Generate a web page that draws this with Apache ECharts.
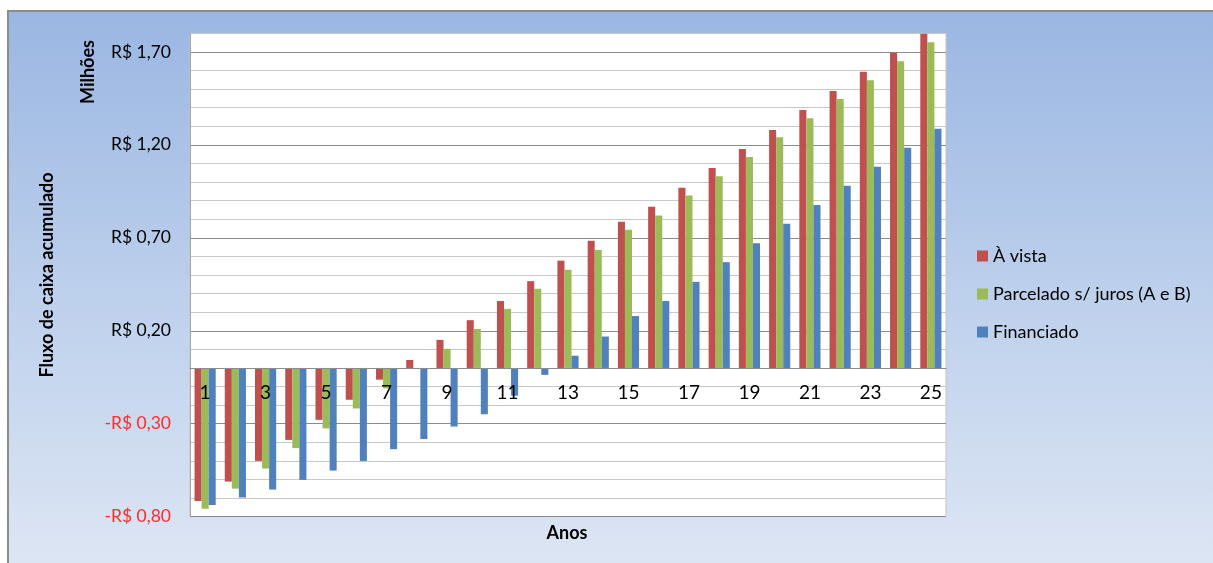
<!DOCTYPE html>
<html>
<head>
<meta charset="utf-8">
<script src="https://cdn.jsdelivr.net/npm/echarts@6/dist/echarts.min.js"></script>
<style>html,body{margin:0;padding:0;background:#fff}#c{width:1213px;height:563px}</style>
</head>
<body>
<div id="c"></div>
<script>
var categories = ['1','2','3','4','5','6','7','8','9','10','11','12','13','14','15','16','17','18','19','20','21','22','23','24','25'];
var aVista = [-0.715,-0.611,-0.500,-0.387,-0.279,-0.171,-0.063,0.043,0.151,0.257,0.360,0.467,0.577,0.684,0.786,0.867,0.969,1.076,1.178,1.280,1.388,1.490,1.593,1.695,1.798];
var parcelado = [-0.757,-0.649,-0.541,-0.431,-0.325,-0.218,-0.110,-0.002,0.103,0.210,0.318,0.426,0.528,0.635,0.743,0.820,0.928,1.031,1.135,1.241,1.343,1.446,1.548,1.650,1.752];
var financiado = [-0.737,-0.697,-0.654,-0.602,-0.552,-0.500,-0.437,-0.382,-0.315,-0.249,-0.149,-0.037,0.066,0.169,0.279,0.360,0.463,0.569,0.671,0.775,0.876,0.980,1.082,1.184,1.286];
var yTickValues = [-0.8,-0.3,0.2,0.7,1.2,1.7];
var yTickLabels = ['-R$ 0,80','-R$ 0,30','R$ 0,20','R$ 0,70','R$ 1,20','R$ 1,70'];
var seriesNames = ['À vista','Parcelado s/ juros (A e B)','Financiado'];

var FONT = 'Lato';
var Y_MIN = -0.8, Y_MAX = 1.8;
var GRID_TOP = 33.3, GRID_BOTTOM = 46.3, H = 563;
var plotH = H - GRID_TOP - GRID_BOTTOM;
var zeroOffset = plotH * (0 - Y_MIN) / (Y_MAX - Y_MIN);

function tickIndex(v){
  for (var i=0;i<yTickValues.length;i++){ if (Math.abs(yTickValues[i]-v)<1e-6) return i; }
  return -1;
}
var chart = echarts.init(document.getElementById('c'));
chart.setOption({
  backgroundColor: '#ffffff',
  animation: false,
  textStyle: {fontFamily: FONT},
  graphic: [
    {type:'rect', z:-10, silent:true, shape:{x:8, y:11, width:1220, height:570},
     style:{fill:new echarts.graphic.LinearGradient(0,0,0,1,[{offset:0,color:'#9ab6e2'},{offset:0.5,color:'#bdd0ec'},{offset:1,color:'#dfe7f4'}]), stroke:'#8c8c8c', lineWidth:2}},
    {type:'text', rotation:Math.PI/2, x:88, y:72, style:{text:'Milhões', fontFamily:FONT, fontWeight:'bold', fontSize:18, fill:'#000', textAlign:'center', textVerticalAlign:'middle'}},
    {type:'text', x:567, y:533, style:{text:'Anos', fontFamily:FONT, fontWeight:'bold', fontSize:18, fill:'#000', textAlign:'center', textVerticalAlign:'middle'}}
  ],
  color: ['#c0504d','#9bbb59','#4f81bd'],
  legend: {
    orient:'vertical', left:977, top:247, padding:0,
    itemWidth:11, itemHeight:11, itemGap:20, icon:'rect',
    data: seriesNames,
    textStyle:{fontFamily:FONT, fontSize:18, color:'#000', lineHeight:16}
  },
  grid: {left:190, top:GRID_TOP, right:267, bottom:GRID_BOTTOM, show:true, backgroundColor:'#ffffff', borderColor:'#c4c4c4', borderWidth:1, containLabel:false},
  xAxis: {
    type:'category', data:categories, position:'bottom', offset:-zeroOffset, z:10,
    axisLine:{onZero:false, lineStyle:{color:'#8c8c8c', width:1}},
    axisTick:{show:false},
    axisLabel:{interval:1, color:'#000', fontSize:19, fontFamily:FONT, margin:15},
    splitLine:{show:false}
  },
  yAxis: {
    type:'value', min:Y_MIN, max:Y_MAX, interval:0.1,
    name:'Fluxo de caixa acumulado', nameLocation:'middle', nameGap:134, nameRotate:90,
    nameTextStyle:{fontFamily:FONT, fontWeight:'bold', fontSize:18, color:'#000'},
    axisLine:{show:true, lineStyle:{color:'#a6a6a6'}},
    axisTick:{show:false},
    axisLabel:{
      margin:19, fontSize:17.5, fontFamily:FONT,
      formatter:function(v){ var i=tickIndex(v); return i>=0 ? yTickLabels[i] : ''; },
      color:function(v){ return v<0 ? '#ff2a2a' : '#000'; }
    },
    splitLine:{show:true, lineStyle:{color:['#8c8c8c','#c8c8c8','#c8c8c8','#c8c8c8','#c8c8c8'], width:1}}
  },
  series: [
    {name:seriesNames[0], type:'bar', data:aVista, barGap:'0%', barCategoryGap:'30%'},
    {name:seriesNames[1], type:'bar', data:parcelado, barGap:'0%', barCategoryGap:'30%'},
    {name:seriesNames[2], type:'bar', data:financiado, barGap:'0%', barCategoryGap:'30%'}
  ]
});
</script>
</body>
</html>
